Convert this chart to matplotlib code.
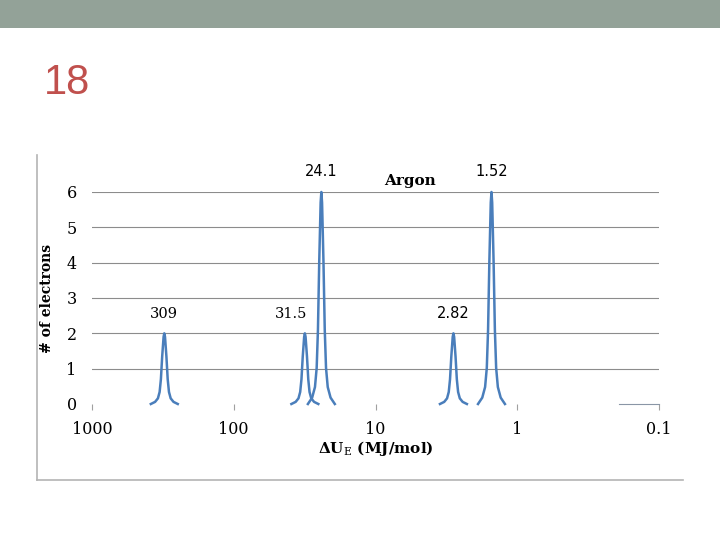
import numpy as np
import matplotlib.pyplot as plt
from matplotlib.lines import Line2D
from matplotlib.patches import Rectangle

# ionisation energies (MJ/mol) and number of electrons per shell
energies = [309, 31.5, 24.1, 2.82, 1.52]
electrons = [2, 2, 6, 2, 6]
peak_labels = ["309", "31.5", "24.1", "2.82", "1.52"]
label_serif = [True, True, False, False, False]
label_dx = [0, -10, 0, 0, 0]  # points

# relative peak shape (offset in decades -> fraction of height)
shape_offsets = [-0.095, -0.065, -0.045, -0.033, -0.024, -0.015, -0.005, 0,
                 0.005, 0.015, 0.024, 0.033, 0.045, 0.065, 0.095]
shape_heights = [0, 0.03, 0.08, 0.17, 0.35, 0.67, 0.95, 1,
                 0.95, 0.67, 0.35, 0.17, 0.08, 0.03, 0]

x_ticks = [1000, 100, 10, 1, 0.1]
x_tick_labels = ["1000", "100", "10", "1", "0.1"]
y_ticks = [0, 1, 2, 3, 4, 5, 6]

blue = "#4A7EBB"
serif = "DejaVu Serif"
plt.rcParams["mathtext.fontset"] = "custom"
plt.rcParams["mathtext.bf"] = "DejaVu Serif:bold"
plt.rcParams["mathtext.rm"] = "DejaVu Serif"

fig = plt.figure(figsize=(7.2, 5.4), dpi=100)

# slide decoration
fig.add_artist(Rectangle((0, 1 - 28 / 540), 1, 28 / 540, transform=fig.transFigure,
                         color="#93A298", lw=0))
fig.text(44 / 720, 1 - 83 / 540, "18", fontsize=30, color="#C0504D",
         family=["Liberation Sans Narrow", "Liberation Sans"], va="center", ha="left")
fig.add_artist(Line2D([37 / 720, 37 / 720], [1 - 155 / 540, 1 - 480 / 540],
                      transform=fig.transFigure, color="#B4B4B4", lw=1.2))
fig.add_artist(Line2D([37 / 720, 683 / 720], [1 - 480 / 540, 1 - 480 / 540],
                      transform=fig.transFigure, color="#B4B4B4", lw=1.2))

ax = fig.add_axes([92 / 720, 1 - 404 / 540, (659 - 92) / 720, (404 - 192) / 540])
ax.set_xscale("log")
ax.set_xlim(1000, 0.1)
ax.set_ylim(0, 6)

offs = np.array(shape_offsets)
hts = np.array(shape_heights)
for e, n in zip(energies, electrons):
    ax.plot(e * 10 ** offs, n * hts, color=blue, lw=1.8, clip_on=False, zorder=3)

for e, n, lab, is_serif, dx in zip(energies, electrons, peak_labels, label_serif, label_dx):
    fam = serif if is_serif else "DejaVu Sans"
    ax.annotate(lab, (e, n), xytext=(dx, 9), textcoords="offset points",
                ha="center", va="bottom", fontsize=10.5, family=fam)

ax.text(0.56, 6.32, "Argon", transform=ax.get_yaxis_transform(), ha="center", va="center",
        fontsize=11, family=serif, fontweight="bold")

for y in y_ticks[1:]:
    ax.axhline(y, color="#8C8C8C", lw=0.8, zorder=1)

for side in ["top", "left", "right"]:
    ax.spines[side].set_visible(False)
ax.spines["bottom"].set_color("#8A96A6")
ax.spines["bottom"].set_bounds(0.19, 0.1)

ax.set_xticks(x_ticks)
ax.set_xticklabels(x_tick_labels, family=serif, fontsize=11.5)
ax.xaxis.set_minor_locator(plt.NullLocator())
ax.tick_params(axis="x", direction="out", length=4, color="#A0A0A0", pad=8)
ax.set_yticks(y_ticks)
ax.set_yticklabels([str(v) for v in y_ticks], family=serif, fontsize=11.5)
ax.tick_params(axis="y", length=0, pad=11)

ax.set_xlabel(r"$\mathbf{\Delta U}_{\mathrm{E}}$ (MJ/mol)", fontsize=11, family=serif,
              fontweight="bold", labelpad=1)
ax.set_ylabel("# of electrons", fontsize=10, family=serif, fontweight="bold", labelpad=9)

fig.savefig("out.png", dpi=100)
